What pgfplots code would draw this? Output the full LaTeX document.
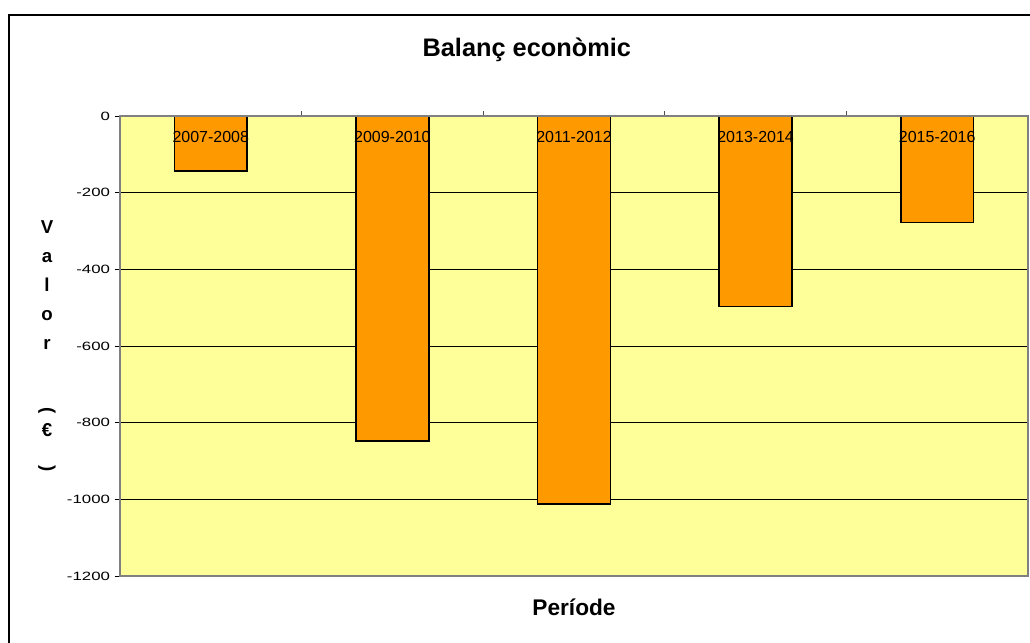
\documentclass[border=0pt]{standalone}
\usepackage{fontspec}
\setmainfont{Liberation Sans}
\newfontfamily\ytickfont[FakeStretch=1.4]{Liberation Sans}
\usepackage{graphicx}
\usepackage{pgfplots}
\pgfplotsset{compat=1.18}
\definecolor{plotbg}{HTML}{FFFF99}
\definecolor{barfill}{HTML}{FF9900}
\begin{document}
\begin{tikzpicture}
\useasboundingbox (0pt,0pt) rectangle (772.5pt,-481.5pt);
\draw[line width=1pt, black] (6.75pt,-495pt) -- (6.75pt,-11.25pt) -- (785pt,-11.25pt);
\begin{axis}[
  axis on top,
  at={(90pt,-432pt)}, anchor=south west,
  scale only axis, width=681pt, height=345pt,
  xmin=-0.5, xmax=4.5, ymin=-1200, ymax=0,
  axis background/.style={fill=plotbg},
  axis line style={draw=black!50, line width=1pt},
  ybar, bar width=0.4,
  xtick={0,1,2,3,4},
  xticklabels={2007-2008,2009-2010,2011-2012,2013-2014,2015-2016},
  xticklabel pos=right, xtick pos=right,
  major x tick style={draw=none},
  minor xtick={0.5,1.5,2.5,3.5},
  minor x tick style={black!70, line width=0.75pt},
  minor tick length=3.5pt,
  xticklabel style={anchor=center, yshift=-19.5pt, font=\fontsize{12}{14}\selectfont},
  ytick={-1200,-1000,-800,-600,-400,-200,0},
  ytick pos=left, ytick align=outside,
  major tick length=4pt,
  major y tick style={black, line width=0.75pt},
  yticklabel style={font=\ytickfont\fontsize{9}{11}\selectfont},
  /pgf/number format/assume math mode=true,
  /pgf/number format/set thousands separator={},
  title={Balanç econòmic},
  title style={at={(axis description cs:0.448,1.126)}, anchor=center, yshift=0pt, font=\bfseries\fontsize{19}{22}\selectfont},
  xlabel={Període},
  xlabel style={at={(axis description cs:0.5,-0.067)}, anchor=center, font=\bfseries\fontsize{17}{20}\selectfont},
  ylabel={V\\a\\l\\o\\r\\ \\\rotatebox{-90}{(}\\€\\\rotatebox{-90}{)}},
  ylabel style={at={(axis description cs:-0.0804,0.5)}, anchor=center, rotate=-90, align=center, font=\bfseries\fontsize{14}{21.75}\selectfont},
]
\pgfplotsinvokeforeach{-200,-400,-600,-800,-1000}{
  \draw[black, line width=0.75pt] (axis cs:-0.5,#1) -- (axis cs:4.5,#1);
}
\addplot[fill=barfill, draw=black, line width=1.2pt] coordinates {(0,-143) (1,-848) (2,-1012) (3,-497) (4,-278)};
\draw[black, line width=1pt] (axis cs:-0.5,0) -- (axis cs:-0.5,-1200);
\end{axis}
\end{tikzpicture}
\end{document}
